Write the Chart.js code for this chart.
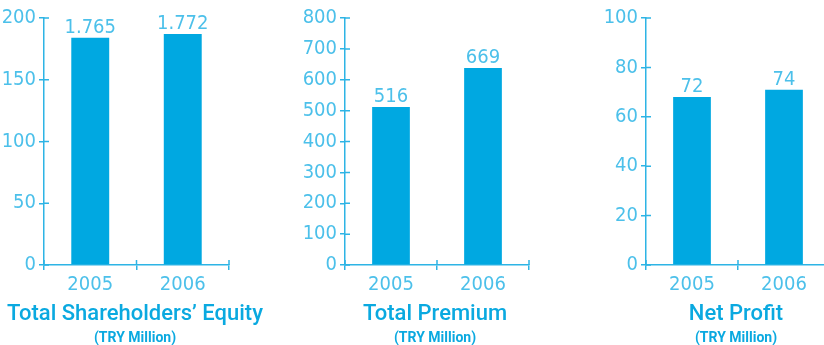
<!DOCTYPE html>
<html>
<head>
<meta charset="utf-8">
<script src="https://cdn.jsdelivr.net/npm/chart.js@4/dist/chart.umd.min.js"></script>
<style>
    html, body { margin: 0; padding: 0; background: #fff; overflow: hidden; }
    #wrap { position: relative; width: 824px; height: 345px; overflow: hidden; }
    #wrap canvas { position: absolute; top: 0; }
    .ttl { position: absolute; transform: translateX(-50%); white-space: nowrap; color: #0aa9e0; font-family: Roboto, "Open Sans", sans-serif; line-height: 1; }
    .ttl.main { top: 302px; font-size: 22px; font-weight: 500; }
    .ttl.sub { top: 330px; font-size: 14px; font-weight: 700; }
</style>
</head>
<body>
<div id="wrap">
    <canvas id="c1"></canvas>
    <canvas id="c2"></canvas>
    <canvas id="c3"></canvas>
    <div class="ttl main" style="left:135px">Total Shareholders’ Equity</div>
    <div class="ttl sub" style="left:135px">(TRY Million)</div>
    <div class="ttl main" style="left:435px">Total Premium</div>
    <div class="ttl sub" style="left:435px">(TRY Million)</div>
    <div class="ttl main" style="left:736px">Net Profit</div>
    <div class="ttl sub" style="left:736px">(TRY Million)</div>
</div>
<script>
// 数据
const years = ['2005', '2006'];

const equityBars = [184, 187];        // 柱子实际高度
const equityLabels = ['1.765', '1.772'];
const equityTicks = { max: 200, step: 50 };

const premiumBars = [512, 638];
const premiumLabels = ['516', '669'];
const premiumTicks = { max: 800, step: 100 };

const profitBars = [68, 71];
const profitLabels = ['72', '74'];
const profitTicks = { max: 100, step: 20 };

// 样式
const BAR = '#00a8e1';
const AXIS = '#2db4e5';
const TXT = '#4cc0ea';
const NUM_FONT = { family: '"Liberation Sans Narrow", "DejaVu Sans Condensed", sans-serif', size: 20 };

// 轴线两侧的刻度（Chart.js 只画外侧，这里补上内侧）
const crossTicks = {
    id: 'crossTicks',
    afterDraw(chart) {
        const { ctx, scales: { x, y } } = chart;
        ctx.save();
        ctx.strokeStyle = AXIS;
        ctx.lineWidth = 1.5;
        ctx.beginPath();
        y.ticks.forEach(t => {
            const py = y.getPixelForValue(t.value);
            ctx.moveTo(x.left, py);
            ctx.lineTo(x.left + 5, py);
        });
        for (let i = 0; i <= x.ticks.length; i++) {
            const px = x.getPixelForValue(i - 0.5);
            ctx.moveTo(px, y.bottom);
            ctx.lineTo(px, y.bottom - 5);
        }
        ctx.stroke();
        ctx.restore();
    }
};

// 柱顶数值
const topLabels = {
    id: 'topLabels',
    afterDatasetsDraw(chart) {
        const { ctx } = chart;
        const texts = chart.options.plugins.topLabels.texts;
        ctx.save();
        ctx.fillStyle = TXT;
        ctx.font = `${NUM_FONT.size}px ${NUM_FONT.family}`;
        ctx.textAlign = 'center';
        ctx.textBaseline = 'alphabetic';
        chart.getDatasetMeta(0).data.forEach((bar, i) => {
            ctx.fillText(texts[i], bar.x, bar.y - 5);
        });
        ctx.restore();
    }
};

function makeChart(id, left, width, yWidth, bars, texts, ticks) {
    const cv = document.getElementById(id);
    cv.width = width;
    cv.height = 345;
    cv.style.left = left + 'px';
    return new Chart(cv, {
        type: 'bar',
        data: {
            labels: years,
            datasets: [{ data: bars, backgroundColor: BAR, categoryPercentage: 1, barPercentage: 0.41 }]
        },
        options: {
            responsive: false,
            animation: false,
            layout: { padding: { top: 18, right: 3, bottom: 0, left: 0 } },
            plugins: { legend: { display: false }, tooltip: { enabled: false }, topLabels: { texts } },
            scales: {
                x: {
                    grid: { drawOnChartArea: false, tickLength: 5, color: AXIS, lineWidth: 1.5, offset: true },
                    border: { color: AXIS, width: 1.5 },
                    ticks: { color: TXT, font: NUM_FONT, padding: 3 },
                    afterFit: s => { s.height = 80; }
                },
                y: {
                    min: 0, max: ticks.max,
                    grid: { drawOnChartArea: false, tickLength: 5, color: AXIS, lineWidth: 1.5 },
                    border: { color: AXIS, width: 1.5 },
                    ticks: { stepSize: ticks.step, color: TXT, font: NUM_FONT, padding: 3 },
                    afterFit: s => { s.width = yWidth; }
                }
            }
        },
        plugins: [crossTicks, topLabels]
    });
}

makeChart('c1', 0, 232, 44, equityBars, equityLabels, equityTicks);
makeChart('c2', 280, 252, 65, premiumBars, premiumLabels, premiumTicks);
makeChart('c3', 560, 273, 86, profitBars, profitLabels, profitTicks);
</script>
</body>
</html>
